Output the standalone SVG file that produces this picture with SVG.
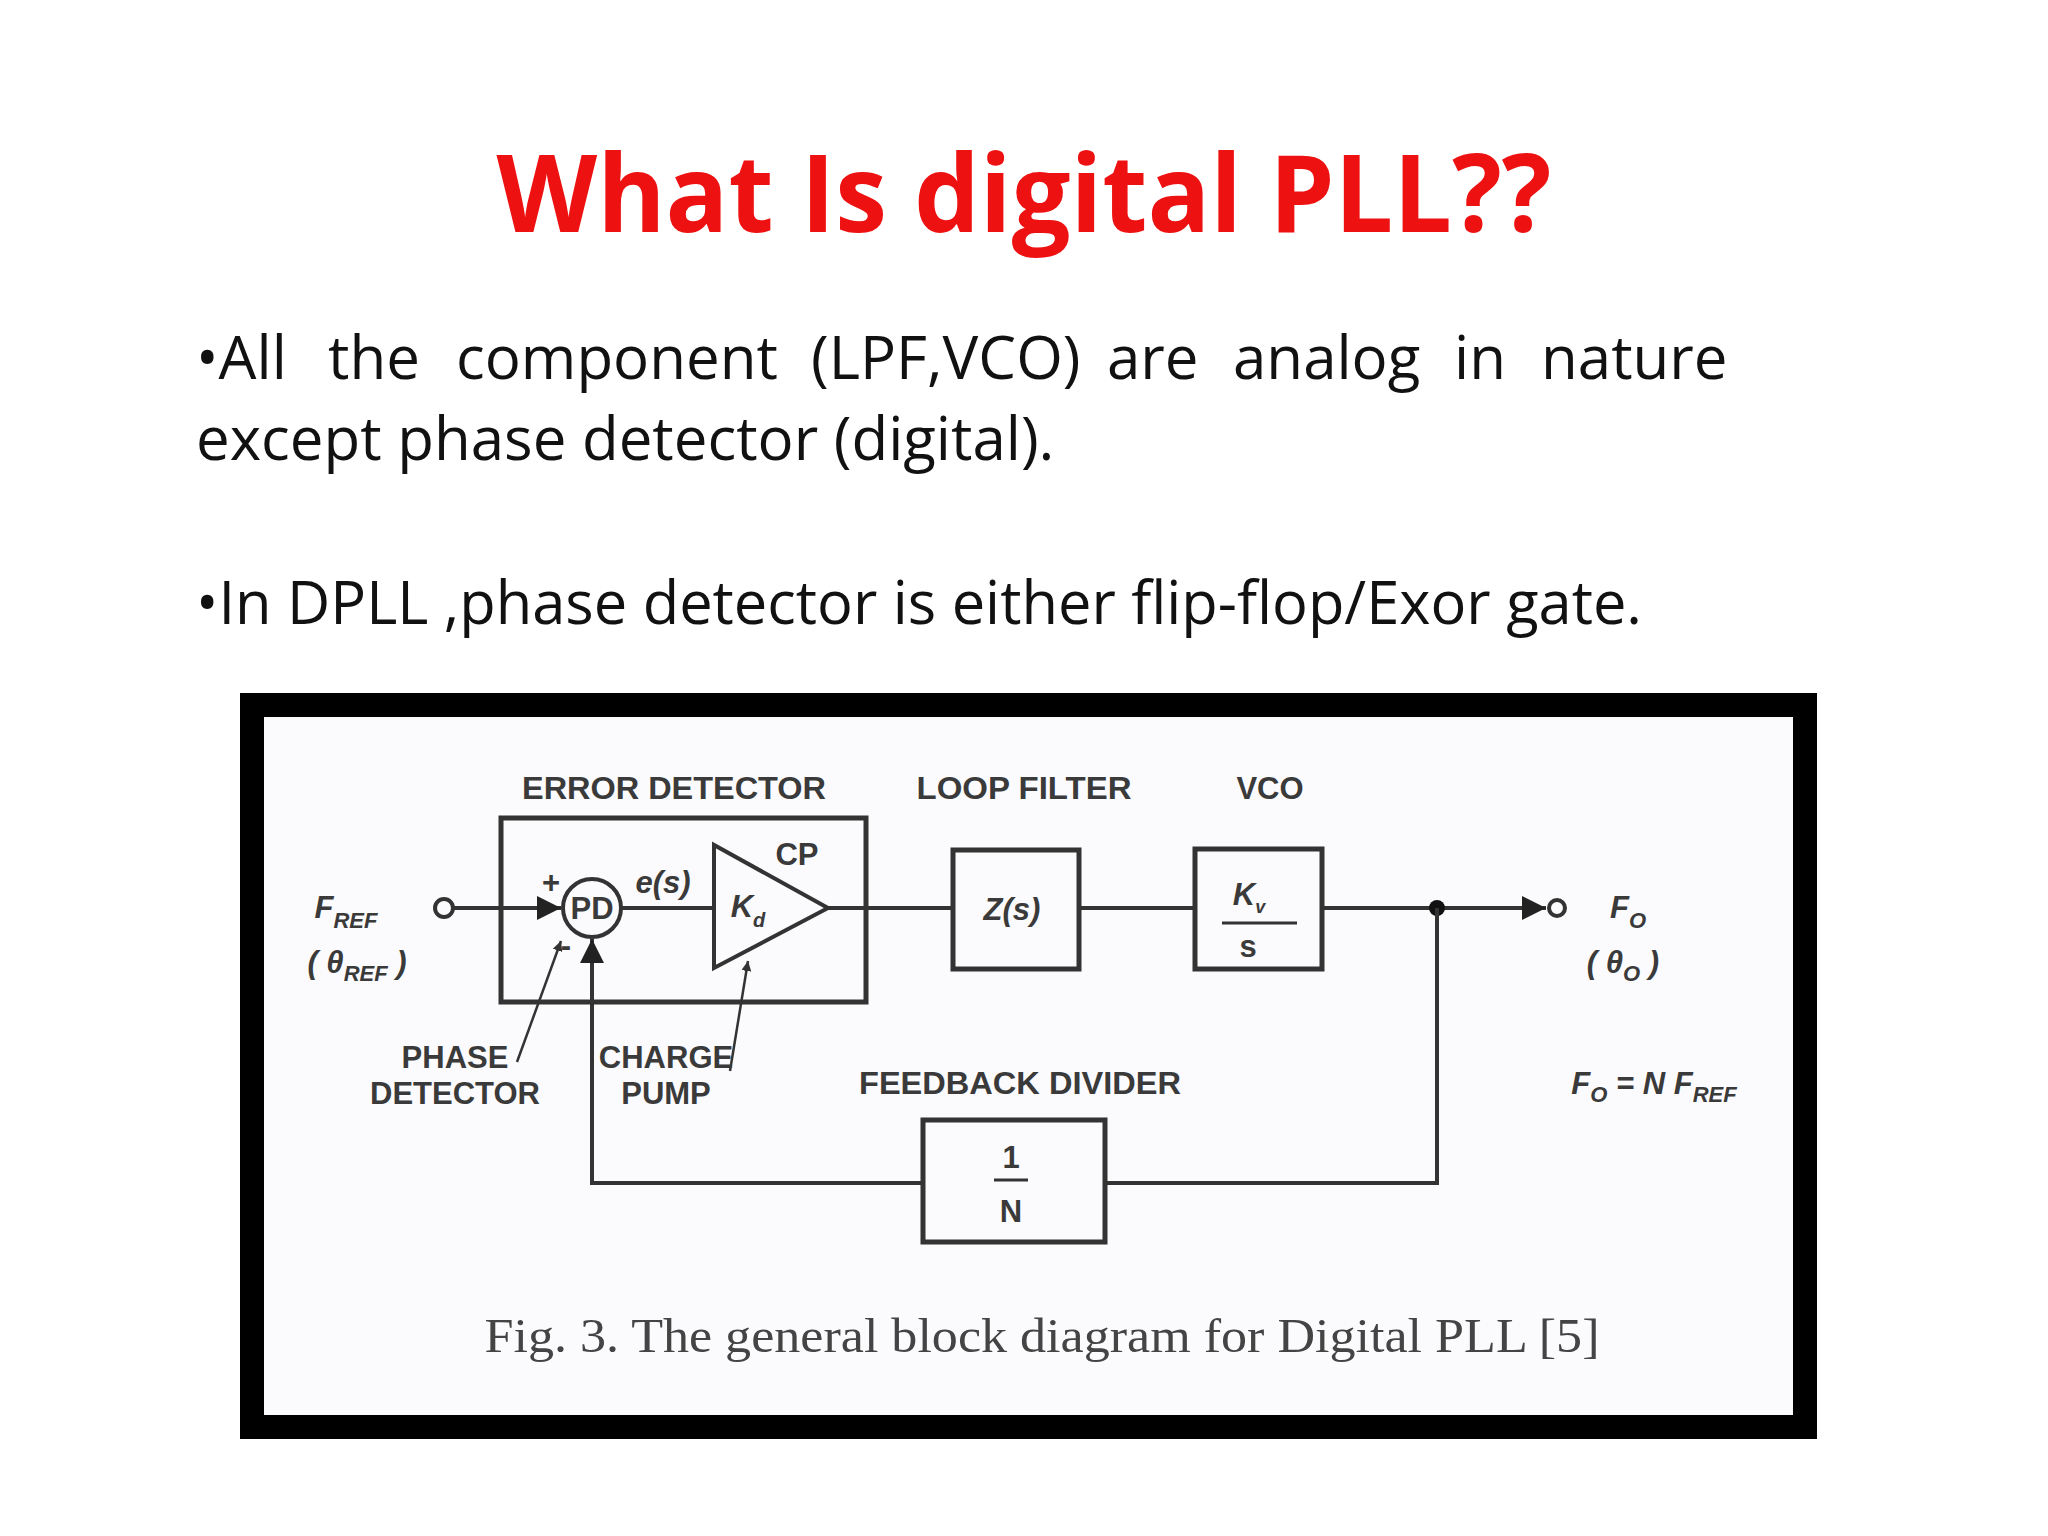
<svg xmlns="http://www.w3.org/2000/svg" width="2048" height="1536" viewBox="0 0 2048 1536">
<style>
.lbl{font-family:"Liberation Sans",Arial,sans-serif;font-weight:bold;font-size:31px;fill:#3a3a3a;text-anchor:middle}
.it{font-style:italic}
.ln{stroke:#333;stroke-width:4;fill:none}
.bx{stroke:#333;stroke-width:5;fill:none}
.body{font-family:"Open Sans","Liberation Sans",sans-serif;font-size:60px;fill:#111}
</style>
<defs>
<marker id="ah" viewBox="0 0 10 10" refX="10" refY="5" markerWidth="6" markerHeight="6" orient="auto"><path d="M0,0 L10,5 L0,10 z" fill="#222"/></marker>
<marker id="sa" viewBox="0 0 10 10" refX="10" refY="5" markerWidth="4" markerHeight="4" orient="auto"><path d="M0,0 L10,5 L0,10 z" fill="#333"/></marker>
</defs>
<rect width="2048" height="1536" fill="#fff"/>
<text x="1024" y="232" text-anchor="middle" font-family="'Open Sans','Liberation Sans',sans-serif" font-weight="bold" font-size="108" fill="#ee1111" textLength="1055" lengthAdjust="spacingAndGlyphs">What Is digital PLL??</text>
<text class="body" y="379"><tspan x="196">•All</tspan><tspan x="328">the</tspan><tspan x="456">component</tspan><tspan x="811">(LPF,VCO)</tspan><tspan x="1107">are</tspan><tspan x="1233">analog</tspan><tspan x="1454">in</tspan><tspan x="1541">nature</tspan></text>
<text class="body" x="196" y="460">except phase detector (digital).</text>
<text class="body" x="196" y="624" textLength="1446" lengthAdjust="spacingAndGlyphs">•In DPLL ,phase detector is either flip-flop/Exor gate.</text>
<rect x="252" y="705" width="1553" height="722" fill="#fbfbfd" stroke="#000" stroke-width="24"/>
<g id="connectors">
<circle cx="444" cy="908" r="9" class="ln" fill="#fff"/>
<line x1="453" y1="908" x2="561" y2="908" class="ln" marker-end="url(#ah)"/>
<line x1="621" y1="908" x2="714" y2="908" class="ln"/>
<line x1="828" y1="908" x2="953" y2="908" class="ln"/>
<line x1="1079" y1="908" x2="1195" y2="908" class="ln"/>
<line x1="1322" y1="908" x2="1546" y2="908" class="ln" marker-end="url(#ah)"/>
<circle cx="1557" cy="908" r="8" class="ln" fill="#fff"/>
<circle cx="1437" cy="908" r="8" fill="#111"/>
<polyline points="1437,908 1437,1183 1105,1183" class="ln"/>
<polyline points="923,1183 592,1183 592,939" class="ln" marker-end="url(#ah)"/>
<line x1="517" y1="1062" x2="561" y2="941" stroke="#333" stroke-width="2.5" marker-end="url(#sa)"/>
<line x1="730" y1="1071" x2="748" y2="961" stroke="#333" stroke-width="2.5" marker-end="url(#sa)"/>
</g>
<g id="error-detector">
<rect x="501" y="818" width="365" height="184" class="bx"/>
<text class="lbl" x="674" y="799" textLength="304" lengthAdjust="spacingAndGlyphs">ERROR DETECTOR</text>
</g>
<g id="pd">
<circle cx="592" cy="908" r="29" class="ln"/>
<text class="lbl" x="592" y="919" font-size="26">PD</text>
<text class="lbl" x="551" y="893">+</text>
<text class="lbl" x="566" y="956">-</text>
<text class="lbl it" x="663" y="893" font-size="28">e(s)</text>
</g>
<g id="cp">
<polygon points="714,845 714,968 828,908" class="ln"/>
<text class="lbl it" x="748" y="917" font-size="30">K<tspan font-size="20" dy="10">d</tspan></text>
<text class="lbl" x="797" y="865" font-size="28">CP</text>
</g>
<g id="loop-filter">
<rect x="953" y="850" width="126" height="119" class="bx"/>
<text class="lbl it" x="1012" y="920">Z(s)</text>
<text class="lbl" x="1024" y="799" textLength="215" lengthAdjust="spacingAndGlyphs">LOOP FILTER</text>
</g>
<g id="vco">
<rect x="1195" y="849" width="127" height="120" class="bx"/>
<text class="lbl it" x="1249" y="905">K<tspan font-size="18" dy="8">v</tspan></text>
<line x1="1222" y1="923" x2="1297" y2="923" stroke="#333" stroke-width="3"/>
<text class="lbl" x="1248" y="957" font-size="26">s</text>
<text class="lbl" x="1270" y="799">VCO</text>
</g>
<g id="divider">
<rect x="923" y="1120" width="182" height="122" class="bx"/>
<text class="lbl" x="1011" y="1168" font-size="34">1</text>
<line x1="994" y1="1180" x2="1028" y2="1180" stroke="#333" stroke-width="3"/>
<text class="lbl" x="1011" y="1222" font-size="34">N</text>
<text class="lbl" x="1020" y="1094" textLength="322" lengthAdjust="spacingAndGlyphs">FEEDBACK DIVIDER</text>
</g>
<g id="labels">
<text class="lbl it" x="346" y="918">F<tspan font-size="22" dy="10">REF</tspan></text>
<text class="lbl it" x="357" y="973">( θ<tspan font-size="22" dy="8">REF</tspan><tspan dy="-8"> )</tspan></text>
<text class="lbl it" x="1628" y="918">F<tspan font-size="22" dy="10">O</tspan></text>
<text class="lbl it" x="1623" y="973">( θ<tspan font-size="22" dy="8">O</tspan><tspan dy="-8"> )</tspan></text>
<text class="lbl it" x="1654" y="1094">F<tspan font-size="22" dy="8">O</tspan><tspan dy="-8"> = N F</tspan><tspan font-size="22" dy="8">REF</tspan></text>
<text class="lbl" x="455" y="1068" font-size="28">PHASE</text>
<text class="lbl" x="455" y="1104" font-size="28">DETECTOR</text>
<text class="lbl" x="666" y="1068" font-size="28">CHARGE</text>
<text class="lbl" x="666" y="1104" font-size="28">PUMP</text>
</g>
<text x="1042" y="1352" text-anchor="middle" font-family="'Liberation Serif','Times New Roman',serif" font-size="48" fill="#444" textLength="1115" lengthAdjust="spacingAndGlyphs">Fig. 3. The general block diagram for Digital PLL [5]</text>
</svg>
